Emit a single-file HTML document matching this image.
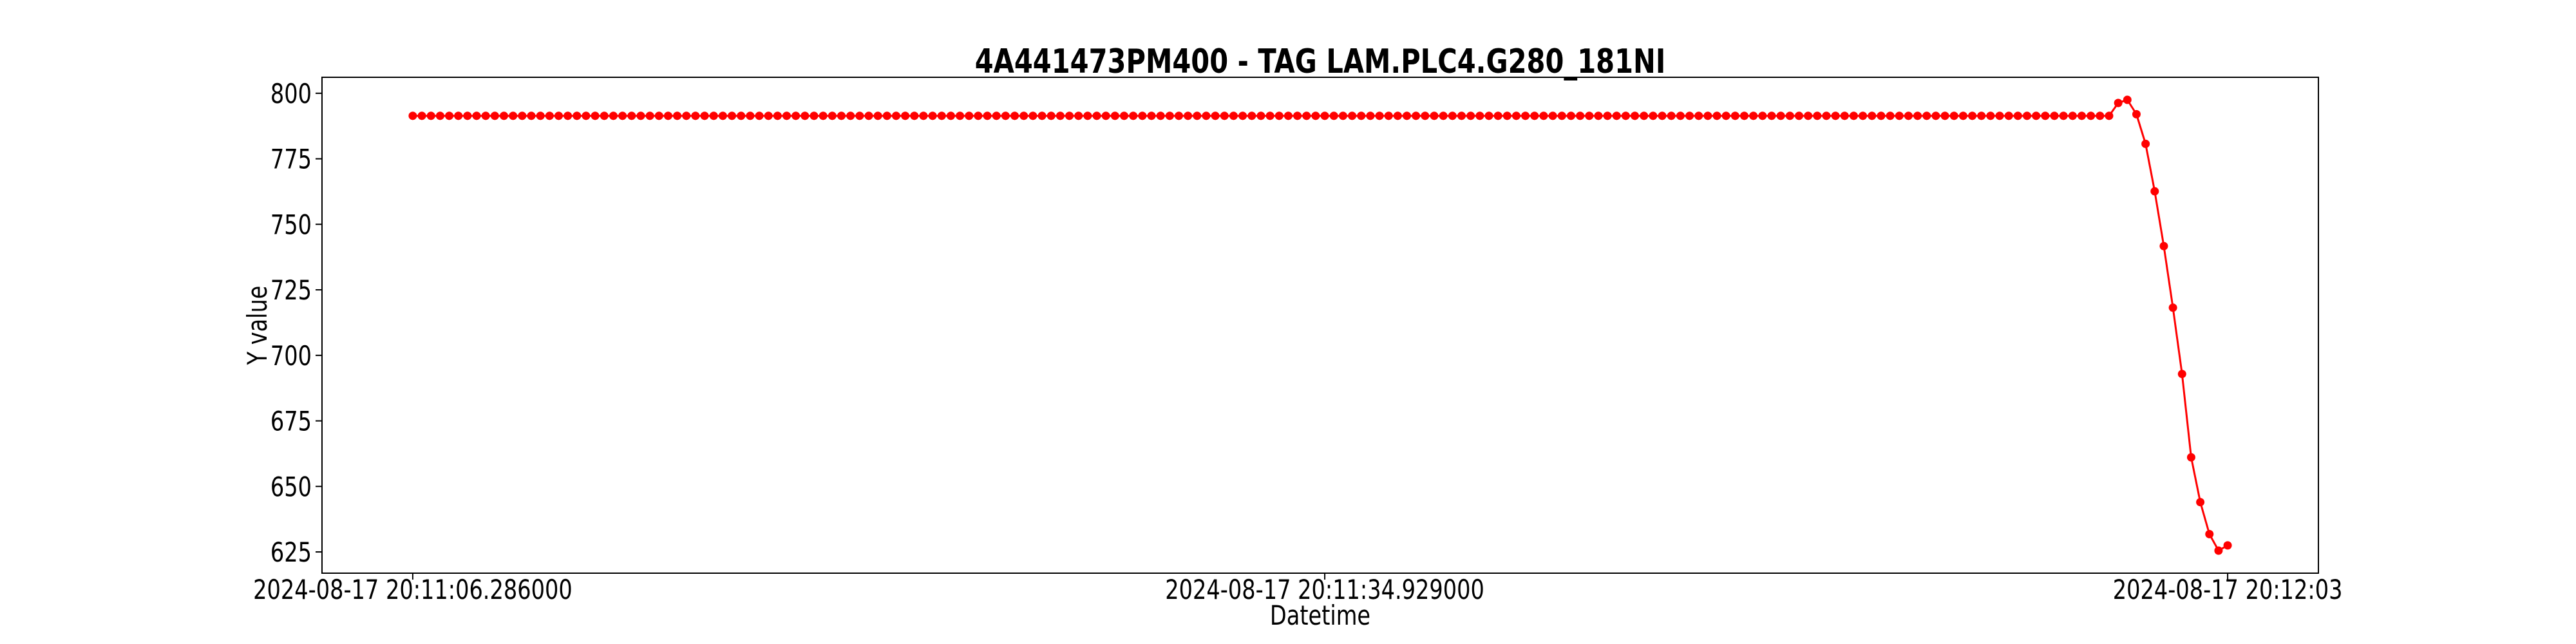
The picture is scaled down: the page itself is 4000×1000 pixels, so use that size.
<!DOCTYPE html>
<html><head><meta charset="utf-8"><style>html,body{margin:0;padding:0;background:#fff}svg{display:block}</style></head>
<body>
<svg id="chart" width="4000" height="1000" xmlns="http://www.w3.org/2000/svg" font-family="'DejaVu Sans','Liberation Sans',sans-serif">
<rect width="4000" height="1000" fill="#fff"/>
<text transform="translate(2050,113) scale(0.8,1)" text-anchor="middle" font-size="52" font-weight="bold">4A441473PM400 - TAG LAM.PLC4.G280_181NI</text>
<g id="plot"></g>
<rect x="500" y="120" width="3100" height="770" fill="none" stroke="#000" stroke-width="2"/>
<g id="yticks"></g>
<g id="xticks"></g>
<text transform="translate(2050,970) scale(0.8,1)" text-anchor="middle" font-size="42">Datetime</text>
<text transform="translate(414,505) rotate(-90) scale(0.8,1)" text-anchor="middle" font-size="42">Y value</text>
</svg>
<script>
const flatCount = 187;
const flatValue = 791.4;
const tailValues = [796.3, 797.5, 792.0, 780.7, 762.6, 741.7, 718.2, 692.9, 661.1, 644.0, 631.8, 625.5, 627.5];
const yTickValues = [625, 650, 675, 700, 725, 750, 775, 800];
const xTickIndex = [0, 100, 199];
const xTickLabels = ["2024-08-17 20:11:06.286000", "2024-08-17 20:11:34.929000", "2024-08-17 20:12:03"];

const values = [];
for (let i = 0; i < flatCount; i++) values.push(flatValue);
tailValues.forEach(v => values.push(v));

const NS = "http://www.w3.org/2000/svg";
const L = 500, R = 3600, T = 120, B = 890;
const n = values.length;
const xMin = -0.05 * (n - 1), xMax = (n - 1) * 1.05;
const yMin = 616.9, yMax = 806.1;
const xs = i => L + (i - xMin) / (xMax - xMin) * (R - L);
const ys = v => B - (v - yMin) / (yMax - yMin) * (B - T);

function mk(tag, attrs, parent) {
  const e = document.createElementNS(NS, tag);
  for (const k in attrs) e.setAttribute(k, attrs[k]);
  parent.appendChild(e);
  return e;
}
const plot = document.getElementById('plot');
const line = mk('polyline', {points: values.map((v, i) => xs(i) + ',' + ys(v)).join(' '), fill: 'none', stroke: '#ff0000', 'stroke-width': 3}, plot);


values.forEach((v, i) => {
  const c = mk('circle', {cx: xs(i), cy: ys(v), r: 6.5, fill: '#ff0000'}, plot);
  
  
});
const yg = document.getElementById('yticks');
yTickValues.forEach(v => {
  const y = ys(v);
  const t = mk('line', {x1: L - 10, x2: L, y1: y, y2: y, stroke: '#000', 'stroke-width': 2}, yg);
  
  
  const lb = mk('text', {transform: 'translate(' + (L - 16) + ',' + (y + 15) + ') scale(0.8,1)', 'text-anchor': 'end', 'font-size': 42}, yg);
  lb.textContent = v;
  
  
});
const xg = document.getElementById('xticks');
xTickIndex.forEach((idx, k) => {
  const x = xs(idx);
  const t = mk('line', {x1: x, x2: x, y1: B, y2: B + 10, stroke: '#000', 'stroke-width': 2}, xg);
  
  
  const lb = mk('text', {transform: 'translate(' + x + ',930) scale(0.8,1)', 'text-anchor': 'middle', 'font-size': 42}, xg);
  lb.textContent = xTickLabels[k];
  
  
});
</script>
</body></html>
